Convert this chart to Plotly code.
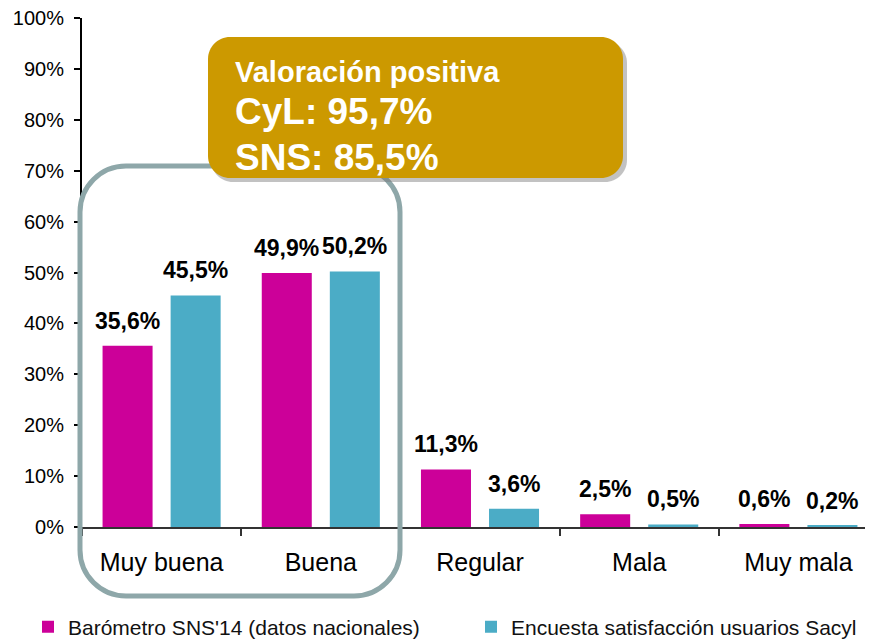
import plotly.graph_objects as go

categories = ["Muy buena", "Buena", "Regular", "Mala", "Muy mala"]
sns_values = [35.6, 49.9, 11.3, 2.5, 0.6]
sacyl_values = [45.5, 50.2, 3.6, 0.5, 0.2]
series_names = ["Barómetro SNS'14 (datos nacionales)", "Encuesta satisfacción usuarios Sacyl"]
y_ticks = list(range(0, 101, 10))
y_tick_labels = [f"{v}%" for v in y_ticks]
box_lines = ["Valoración positiva", "CyL: 95,7%", "SNS: 85,5%"]

MAGENTA = "#CC0099"
CYAN = "#4BACC6"
GOLD = "#CC9900"
FRAME = "#8EA7A9"
FONT = "Arial, Liberation Sans, sans-serif"

OFF = 8  # page body margin
W, H = 873 - OFF, 640 - OFF
ML, MR, MT = 82 - OFF, 0, 18 - OFF
MB = H - (527 - OFF)
PW = W - ML - MR
PH = H - MT - MB


def px(x):
    return (x - OFF - ML) / PW


def py(y):
    return (H - MB - (y - OFF)) / PH


def rounded_path(x0, y0, x1, y1, r):
    k = 0.5523 * r
    pts = []
    pts.append(f"M{px(x0 + r)},{py(y0)}")
    pts.append(f"L{px(x1 - r)},{py(y0)}")
    pts.append(f"C{px(x1 - r + k)},{py(y0)} {px(x1)},{py(y0 + r - k)} {px(x1)},{py(y0 + r)}")
    pts.append(f"L{px(x1)},{py(y1 - r)}")
    pts.append(f"C{px(x1)},{py(y1 - r + k)} {px(x1 - r + k)},{py(y1)} {px(x1 - r)},{py(y1)}")
    pts.append(f"L{px(x0 + r)},{py(y1)}")
    pts.append(f"C{px(x0 + r - k)},{py(y1)} {px(x0)},{py(y1 - r + k)} {px(x0)},{py(y1 - r)}")
    pts.append(f"L{px(x0)},{py(y0 + r)}")
    pts.append(f"C{px(x0)},{py(y0 + r - k)} {px(x0 + r - k)},{py(y0)} {px(x0 + r)},{py(y0)}")
    pts.append("Z")
    return " ".join(pts)


fig = go.Figure()
fig.add_trace(go.Bar(x=categories, y=sns_values, name=series_names[0], legend="legend",
                     marker=dict(color=MAGENTA, line=dict(width=0))))
fig.add_trace(go.Bar(x=categories, y=sacyl_values, name=series_names[1], legend="legend2",
                     marker=dict(color=CYAN, line=dict(width=0))))

annotations = []
for vals, shift in ((sns_values, -34), (sacyl_values, 34)):
    for c, v in zip(categories, vals):
        annotations.append(dict(
            x=c, y=v, xref="x", yref="y", xshift=shift, yshift=25,
            text=f"{v:.1f}%".replace(".", ","), showarrow=False,
            xanchor="center", yanchor="middle",
            font=dict(family=FONT, size=23, color="#000000", weight="bold")))

# box text
for txt, yc, size in zip(box_lines, [72, 112, 157], [29, 37, 37]):
    annotations.append(dict(
        x=px(233), y=py(yc), xref="paper", yref="paper", text=txt, showarrow=False,
        xanchor="left", yanchor="middle",
        font=dict(family=FONT, size=size, color="#FFFFFF", weight="bold")))

shapes = [
    dict(type="path", xref="paper", yref="paper", path=rounded_path(80, 166, 400, 596, 46),
         line=dict(color=FRAME, width=5), fillcolor="rgba(0,0,0,0)", layer="above"),
    dict(type="path", xref="paper", yref="paper", path=rounded_path(211, 41, 627, 182, 22),
         line=dict(width=0), fillcolor="rgba(120,120,120,0.45)", layer="above"),
    dict(type="path", xref="paper", yref="paper", path=rounded_path(208, 37, 623, 178, 22),
         line=dict(width=0), fillcolor=GOLD, layer="above"),
]

legend_common = dict(orientation="h", xref="container", yref="container",
                     xanchor="left", yanchor="middle",
                     font=dict(family=FONT, size=21, color="#111111"),
                     itemclick=False, bgcolor="rgba(0,0,0,0)")

fig.update_layout(
    width=W, height=H,
    margin=dict(l=ML, r=MR, t=MT, b=MB, pad=0, autoexpand=False),
    plot_bgcolor="white", paper_bgcolor="white",
    barmode="group", bargap=0.145, bargroupgap=0.265,
    font=dict(family=FONT, color="#000000"),
    annotations=annotations, shapes=shapes,
    legend=dict(x=(28 - OFF) / W, y=(640 - 627) / H, **legend_common),
    legend2=dict(x=(471 - OFF) / W, y=(640 - 627) / H, **legend_common),
    showlegend=True,
)
fig.update_xaxes(
    range=[-0.5, -0.5 + PW / 159.2], showgrid=False, automargin=False,
    showline=True, linecolor="#333333", linewidth=2,
    ticks="outside", tickson="boundaries", ticklen=7, tickwidth=2, tickcolor="#333333",
    tickfont=dict(family=FONT, size=25, color="#000000"), ticklabelstandoff=12,
    ticklabeloverflow="allow",
)
fig.update_yaxes(
    range=[0, 100], tickvals=y_ticks, ticktext=y_tick_labels, showgrid=False, zeroline=False,
    automargin=False, showline=True, linecolor="#000000", linewidth=2,
    ticks="outside", ticklen=6, tickwidth=2, tickcolor="#000000",
    tickfont=dict(family=FONT, size=20, color="#000000"), ticklabelstandoff=6,
    ticklabeloverflow="allow",
)

fig.write_html("out.html")
